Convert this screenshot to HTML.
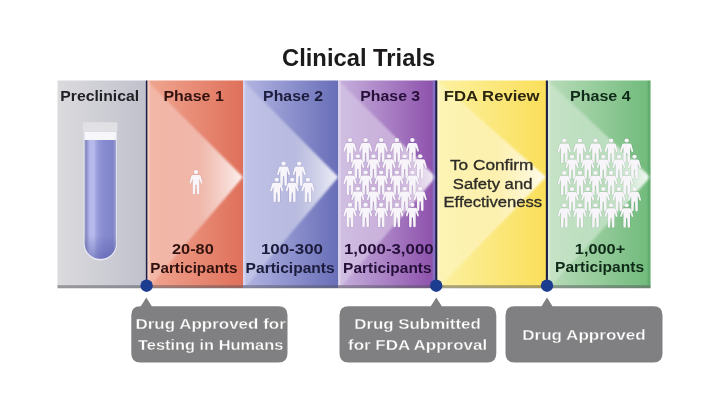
<!DOCTYPE html>
<html lang="en"><head><meta charset="utf-8"><title>Clinical Trials</title>
<style>html,body{margin:0;padding:0;background:#fff;width:720px;height:404px;overflow:hidden}
svg text{font-family:"Liberation Sans","DejaVu Sans",sans-serif}</style>
</head><body>
<svg width="720" height="404" viewBox="0 0 720 404" style="display:block;filter:blur(0.4px)">
<defs>
<linearGradient id="g_pre" x1="0" y1="0" x2="1" y2="0"><stop offset="0" stop-color="#dbdbde"/><stop offset="1" stop-color="#c0c1cc"/></linearGradient>
<linearGradient id="g_p1" x1="0" y1="0" x2="1" y2="0"><stop offset="0" stop-color="#f0a691"/><stop offset="1" stop-color="#df705a"/></linearGradient>
<linearGradient id="g_p2" x1="0" y1="0" x2="1" y2="0"><stop offset="0" stop-color="#b3b5e2"/><stop offset="1" stop-color="#686eb8"/></linearGradient>
<linearGradient id="g_p3" x1="0" y1="0" x2="1" y2="0"><stop offset="0" stop-color="#c6b1dd"/><stop offset="1" stop-color="#8c4fab"/></linearGradient>
<linearGradient id="g_fda" x1="0" y1="0" x2="1" y2="0"><stop offset="0" stop-color="#fcf1a2"/><stop offset="1" stop-color="#fadf5a"/></linearGradient>
<linearGradient id="g_p4" x1="0" y1="0" x2="1" y2="0"><stop offset="0" stop-color="#b9dcb9"/><stop offset="1" stop-color="#70ba7b"/></linearGradient>
<linearGradient id="g_arrowp1" gradientUnits="userSpaceOnUse" x1="147" y1="0" x2="243" y2="0"><stop offset="0" stop-color="#fff" stop-opacity="0.2"/><stop offset="0.55" stop-color="#fff" stop-opacity="0.4"/><stop offset="1" stop-color="#fff" stop-opacity="0.9"/></linearGradient>
<linearGradient id="g_arrowp2" gradientUnits="userSpaceOnUse" x1="243" y1="0" x2="338.3" y2="0"><stop offset="0" stop-color="#fff" stop-opacity="0.2"/><stop offset="0.55" stop-color="#fff" stop-opacity="0.4"/><stop offset="1" stop-color="#fff" stop-opacity="0.9"/></linearGradient>
<linearGradient id="g_arrowp3" gradientUnits="userSpaceOnUse" x1="338.3" y1="0" x2="436" y2="0"><stop offset="0" stop-color="#fff" stop-opacity="0.2"/><stop offset="0.55" stop-color="#fff" stop-opacity="0.4"/><stop offset="1" stop-color="#fff" stop-opacity="0.9"/></linearGradient>
<linearGradient id="g_arrowfda" gradientUnits="userSpaceOnUse" x1="437" y1="0" x2="546" y2="0"><stop offset="0" stop-color="#fff" stop-opacity="0.2"/><stop offset="0.55" stop-color="#fff" stop-opacity="0.4"/><stop offset="1" stop-color="#fff" stop-opacity="0.9"/></linearGradient>
<linearGradient id="g_arrowp4" gradientUnits="userSpaceOnUse" x1="547.5" y1="0" x2="650.5" y2="0"><stop offset="0" stop-color="#fff" stop-opacity="0.2"/><stop offset="0.55" stop-color="#fff" stop-opacity="0.4"/><stop offset="1" stop-color="#fff" stop-opacity="0.9"/></linearGradient>
<filter id="blurA" x="-10%" y="-10%" width="120%" height="120%"><feGaussianBlur stdDeviation="0.9"/></filter>
<linearGradient id="g_arrow" x1="0" y1="0" x2="1" y2="0"><stop offset="0" stop-color="#fff" stop-opacity="0.2"/><stop offset="0.55" stop-color="#fff" stop-opacity="0.4"/><stop offset="1" stop-color="#fff" stop-opacity="0.9"/></linearGradient>
<linearGradient id="g_tube" x1="0" y1="0" x2="1" y2="0"><stop offset="0" stop-color="#9496c4"/><stop offset="0.06" stop-color="#8c8fc6"/><stop offset="0.16" stop-color="#b3b7ea"/><stop offset="0.28" stop-color="#b6baec"/><stop offset="0.42" stop-color="#969ad9"/><stop offset="0.6" stop-color="#878bd0"/><stop offset="0.9" stop-color="#8185c8"/><stop offset="0.97" stop-color="#989bd0"/><stop offset="1" stop-color="#b8bad8"/></linearGradient>
<filter id="blur1" x="-20%" y="-50%" width="140%" height="200%"><feGaussianBlur stdDeviation="0.5"/></filter>
<filter id="blur2" x="-20%" y="-20%" width="140%" height="140%"><feGaussianBlur stdDeviation="1.2"/></filter>
<filter id="soft" x="-5%" y="-5%" width="110%" height="110%"><feGaussianBlur stdDeviation="0.35"/></filter>
<linearGradient id="g_tubev" x1="0" y1="0" x2="0" y2="1"><stop offset="0" stop-color="#4a4fa0" stop-opacity="0"/><stop offset="0.8" stop-color="#4a4fa0" stop-opacity="0"/><stop offset="1" stop-color="#4a4fa0" stop-opacity="0.45"/></linearGradient>
</defs>
<rect width="720" height="404" fill="#ffffff"/>
<rect x="57.5" y="80.5" width="88.5" height="207.7" fill="url(#g_pre)"/>
<rect x="147" y="80.5" width="96" height="207.7" fill="url(#g_p1)"/>
<rect x="243" y="80.5" width="95.30000000000001" height="207.7" fill="url(#g_p2)"/>
<rect x="338.3" y="80.5" width="97.69999999999999" height="207.7" fill="url(#g_p3)"/>
<rect x="437" y="80.5" width="109" height="207.7" fill="url(#g_fda)"/>
<rect x="547.5" y="80.5" width="103.0" height="207.7" fill="url(#g_p4)"/>
<rect x="57.5" y="285.2" width="593" height="3.6" fill="#55555c" fill-opacity="0.5" filter="url(#blur1)"/>
<rect x="50" y="288.4" width="610" height="3" fill="#ffffff"/>
<clipPath id="c_p1"><rect x="147" y="80.5" width="96" height="204.7"/></clipPath>
<g clip-path="url(#c_p1)"><polygon points="141,74.5 147,80.5 243,177 151,285.2 141,291.2" fill="url(#g_arrowp1)" filter="url(#blurA)"/></g>
<clipPath id="c_p2"><rect x="243" y="80.5" width="95.30000000000001" height="204.7"/></clipPath>
<g clip-path="url(#c_p2)"><polygon points="237,74.5 243,80.5 338.3,177 247,285.2 237,291.2" fill="url(#g_arrowp2)" filter="url(#blurA)"/></g>
<clipPath id="c_p3"><rect x="338.3" y="80.5" width="97.69999999999999" height="204.7"/></clipPath>
<g clip-path="url(#c_p3)"><polygon points="332.3,74.5 338.3,80.5 436,177 342.3,285.2 332.3,291.2" fill="url(#g_arrowp3)" filter="url(#blurA)"/></g>
<clipPath id="c_fda"><rect x="437" y="80.5" width="109" height="204.7"/></clipPath>
<g clip-path="url(#c_fda)"><polygon points="431,74.5 437,80.5 546,177 441,285.2 431,291.2" fill="url(#g_arrowfda)" filter="url(#blurA)"/></g>
<clipPath id="c_p4"><rect x="547.5" y="80.5" width="103.0" height="204.7"/></clipPath>
<g clip-path="url(#c_p4)"><polygon points="541.5,74.5 547.5,80.5 650.5,177 551.5,285.2 541.5,291.2" fill="url(#g_arrowp4)" filter="url(#blurA)"/></g>
<rect x="432.6" y="80.5" width="2.8" height="204.7" fill="#7f86d0" fill-opacity="0.55"/>
<rect x="647.6" y="80.5" width="2.9" height="204.7" fill="#3f8f50" fill-opacity="0.3"/>
<rect x="147.4" y="80.5" width="2.4" height="204.7" fill="#ffffff" fill-opacity="0.28"/>
<rect x="243" y="80.5" width="2.4" height="204.7" fill="#ffffff" fill-opacity="0.28"/>
<rect x="338.3" y="80.5" width="2.4" height="204.7" fill="#ffffff" fill-opacity="0.28"/>
<rect x="437.3" y="80.5" width="2.4" height="204.7" fill="#ffffff" fill-opacity="0.28"/>
<rect x="548" y="80.5" width="2.4" height="204.7" fill="#ffffff" fill-opacity="0.28"/>
<rect x="145.85" y="80.5" width="1.5" height="206.7" fill="#1a1f48"/>
<rect x="435.3" y="80.5" width="2" height="206.7" fill="#1a1f48"/>
<rect x="545.85" y="80.5" width="2.1" height="206.7" fill="#1a1f48"/>
<g>
<path d="M83.6 132 L117 132 L117 243.8 A16.7 16.7 0 0 1 83.6 243.8 Z" fill="#e6e7f3" filter="url(#soft)"/>
<path d="M84.6 140 L116.2 140 L116.2 243 A15.8 15.8 0 0 1 84.6 243 Z" fill="url(#g_tube)"/>
<path d="M84.6 140 L116.2 140 L116.2 243 A15.8 15.8 0 0 1 84.6 243 Z" fill="url(#g_tubev)"/>
<rect x="82.7" y="122.2" width="34.7" height="9.6" rx="1.5" fill="#e1e1e5" filter="url(#soft)"/>
<rect x="85" y="132" width="30.6" height="8" fill="#f7f7fa" filter="url(#soft)"/>
</g>
<g filter="url(#soft)">
<g transform="translate(196.00,170.00) scale(1.100,1.000)" fill="#f7f5f9" stroke="#8a4a3a" stroke-opacity="0.2" stroke-width="0.8" paint-order="stroke"><circle cx="0" cy="2.1" r="2.05"/><path d="M-2.6 5 Q-3.8 5 -4.3 6.2 L-5.9 12.6 Q-6.1 13.5 -5.4 13.7 Q-4.7 13.9 -4.4 13 L-3 8.8 L-3 23.5 Q-3 24.5 -1.9 24.5 Q-0.8 24.5 -0.8 23.5 L-0.5 14.8 L0.5 14.8 L0.8 23.5 Q0.8 24.5 1.9 24.5 Q3 24.5 3 23.5 L3 8.8 L4.4 13 Q4.7 13.9 5.4 13.7 Q6.1 13.5 5.9 12.6 L4.3 6.2 Q3.8 5 2.6 5 Z"/></g>
<g transform="translate(283.60,161.50) scale(1.100,1.000)" fill="#f7f5f9" stroke="#3a3f80" stroke-opacity="0.2" stroke-width="0.8" paint-order="stroke"><circle cx="0" cy="2.1" r="2.05"/><path d="M-2.6 5 Q-3.8 5 -4.3 6.2 L-5.9 12.6 Q-6.1 13.5 -5.4 13.7 Q-4.7 13.9 -4.4 13 L-3 8.8 L-3 23.5 Q-3 24.5 -1.9 24.5 Q-0.8 24.5 -0.8 23.5 L-0.5 14.8 L0.5 14.8 L0.8 23.5 Q0.8 24.5 1.9 24.5 Q3 24.5 3 23.5 L3 8.8 L4.4 13 Q4.7 13.9 5.4 13.7 Q6.1 13.5 5.9 12.6 L4.3 6.2 Q3.8 5 2.6 5 Z"/></g>
<g transform="translate(299.20,161.50) scale(1.100,1.000)" fill="#f7f5f9" stroke="#3a3f80" stroke-opacity="0.2" stroke-width="0.8" paint-order="stroke"><circle cx="0" cy="2.1" r="2.05"/><path d="M-2.6 5 Q-3.8 5 -4.3 6.2 L-5.9 12.6 Q-6.1 13.5 -5.4 13.7 Q-4.7 13.9 -4.4 13 L-3 8.8 L-3 23.5 Q-3 24.5 -1.9 24.5 Q-0.8 24.5 -0.8 23.5 L-0.5 14.8 L0.5 14.8 L0.8 23.5 Q0.8 24.5 1.9 24.5 Q3 24.5 3 23.5 L3 8.8 L4.4 13 Q4.7 13.9 5.4 13.7 Q6.1 13.5 5.9 12.6 L4.3 6.2 Q3.8 5 2.6 5 Z"/></g>
<g transform="translate(276.70,177.70) scale(1.100,1.000)" fill="#f7f5f9" stroke="#3a3f80" stroke-opacity="0.2" stroke-width="0.8" paint-order="stroke"><circle cx="0" cy="2.1" r="2.05"/><path d="M-2.6 5 Q-3.8 5 -4.3 6.2 L-5.9 12.6 Q-6.1 13.5 -5.4 13.7 Q-4.7 13.9 -4.4 13 L-3 8.8 L-3 23.5 Q-3 24.5 -1.9 24.5 Q-0.8 24.5 -0.8 23.5 L-0.5 14.8 L0.5 14.8 L0.8 23.5 Q0.8 24.5 1.9 24.5 Q3 24.5 3 23.5 L3 8.8 L4.4 13 Q4.7 13.9 5.4 13.7 Q6.1 13.5 5.9 12.6 L4.3 6.2 Q3.8 5 2.6 5 Z"/></g>
<g transform="translate(292.30,177.70) scale(1.100,1.000)" fill="#f7f5f9" stroke="#3a3f80" stroke-opacity="0.2" stroke-width="0.8" paint-order="stroke"><circle cx="0" cy="2.1" r="2.05"/><path d="M-2.6 5 Q-3.8 5 -4.3 6.2 L-5.9 12.6 Q-6.1 13.5 -5.4 13.7 Q-4.7 13.9 -4.4 13 L-3 8.8 L-3 23.5 Q-3 24.5 -1.9 24.5 Q-0.8 24.5 -0.8 23.5 L-0.5 14.8 L0.5 14.8 L0.8 23.5 Q0.8 24.5 1.9 24.5 Q3 24.5 3 23.5 L3 8.8 L4.4 13 Q4.7 13.9 5.4 13.7 Q6.1 13.5 5.9 12.6 L4.3 6.2 Q3.8 5 2.6 5 Z"/></g>
<g transform="translate(307.90,177.70) scale(1.100,1.000)" fill="#f7f5f9" stroke="#3a3f80" stroke-opacity="0.2" stroke-width="0.8" paint-order="stroke"><circle cx="0" cy="2.1" r="2.05"/><path d="M-2.6 5 Q-3.8 5 -4.3 6.2 L-5.9 12.6 Q-6.1 13.5 -5.4 13.7 Q-4.7 13.9 -4.4 13 L-3 8.8 L-3 23.5 Q-3 24.5 -1.9 24.5 Q-0.8 24.5 -0.8 23.5 L-0.5 14.8 L0.5 14.8 L0.8 23.5 Q0.8 24.5 1.9 24.5 Q3 24.5 3 23.5 L3 8.8 L4.4 13 Q4.7 13.9 5.4 13.7 Q6.1 13.5 5.9 12.6 L4.3 6.2 Q3.8 5 2.6 5 Z"/></g>
<g transform="translate(350.00,138.00) scale(1.100,1.000)" fill="#f7f5f9" stroke="#4a2a66" stroke-opacity="0.2" stroke-width="0.8" paint-order="stroke"><circle cx="0" cy="2.1" r="2.05"/><path d="M-2.6 5 Q-3.8 5 -4.3 6.2 L-5.9 12.6 Q-6.1 13.5 -5.4 13.7 Q-4.7 13.9 -4.4 13 L-3 8.8 L-3 23.5 Q-3 24.5 -1.9 24.5 Q-0.8 24.5 -0.8 23.5 L-0.5 14.8 L0.5 14.8 L0.8 23.5 Q0.8 24.5 1.9 24.5 Q3 24.5 3 23.5 L3 8.8 L4.4 13 Q4.7 13.9 5.4 13.7 Q6.1 13.5 5.9 12.6 L4.3 6.2 Q3.8 5 2.6 5 Z"/></g>
<g transform="translate(365.60,138.00) scale(1.100,1.000)" fill="#f7f5f9" stroke="#4a2a66" stroke-opacity="0.2" stroke-width="0.8" paint-order="stroke"><circle cx="0" cy="2.1" r="2.05"/><path d="M-2.6 5 Q-3.8 5 -4.3 6.2 L-5.9 12.6 Q-6.1 13.5 -5.4 13.7 Q-4.7 13.9 -4.4 13 L-3 8.8 L-3 23.5 Q-3 24.5 -1.9 24.5 Q-0.8 24.5 -0.8 23.5 L-0.5 14.8 L0.5 14.8 L0.8 23.5 Q0.8 24.5 1.9 24.5 Q3 24.5 3 23.5 L3 8.8 L4.4 13 Q4.7 13.9 5.4 13.7 Q6.1 13.5 5.9 12.6 L4.3 6.2 Q3.8 5 2.6 5 Z"/></g>
<g transform="translate(381.20,138.00) scale(1.100,1.000)" fill="#f7f5f9" stroke="#4a2a66" stroke-opacity="0.2" stroke-width="0.8" paint-order="stroke"><circle cx="0" cy="2.1" r="2.05"/><path d="M-2.6 5 Q-3.8 5 -4.3 6.2 L-5.9 12.6 Q-6.1 13.5 -5.4 13.7 Q-4.7 13.9 -4.4 13 L-3 8.8 L-3 23.5 Q-3 24.5 -1.9 24.5 Q-0.8 24.5 -0.8 23.5 L-0.5 14.8 L0.5 14.8 L0.8 23.5 Q0.8 24.5 1.9 24.5 Q3 24.5 3 23.5 L3 8.8 L4.4 13 Q4.7 13.9 5.4 13.7 Q6.1 13.5 5.9 12.6 L4.3 6.2 Q3.8 5 2.6 5 Z"/></g>
<g transform="translate(396.80,138.00) scale(1.100,1.000)" fill="#f7f5f9" stroke="#4a2a66" stroke-opacity="0.2" stroke-width="0.8" paint-order="stroke"><circle cx="0" cy="2.1" r="2.05"/><path d="M-2.6 5 Q-3.8 5 -4.3 6.2 L-5.9 12.6 Q-6.1 13.5 -5.4 13.7 Q-4.7 13.9 -4.4 13 L-3 8.8 L-3 23.5 Q-3 24.5 -1.9 24.5 Q-0.8 24.5 -0.8 23.5 L-0.5 14.8 L0.5 14.8 L0.8 23.5 Q0.8 24.5 1.9 24.5 Q3 24.5 3 23.5 L3 8.8 L4.4 13 Q4.7 13.9 5.4 13.7 Q6.1 13.5 5.9 12.6 L4.3 6.2 Q3.8 5 2.6 5 Z"/></g>
<g transform="translate(412.40,138.00) scale(1.100,1.000)" fill="#f7f5f9" stroke="#4a2a66" stroke-opacity="0.2" stroke-width="0.8" paint-order="stroke"><circle cx="0" cy="2.1" r="2.05"/><path d="M-2.6 5 Q-3.8 5 -4.3 6.2 L-5.9 12.6 Q-6.1 13.5 -5.4 13.7 Q-4.7 13.9 -4.4 13 L-3 8.8 L-3 23.5 Q-3 24.5 -1.9 24.5 Q-0.8 24.5 -0.8 23.5 L-0.5 14.8 L0.5 14.8 L0.8 23.5 Q0.8 24.5 1.9 24.5 Q3 24.5 3 23.5 L3 8.8 L4.4 13 Q4.7 13.9 5.4 13.7 Q6.1 13.5 5.9 12.6 L4.3 6.2 Q3.8 5 2.6 5 Z"/></g>
<g transform="translate(357.80,154.20) scale(1.100,1.000)" fill="#f7f5f9" stroke="#4a2a66" stroke-opacity="0.2" stroke-width="0.8" paint-order="stroke"><circle cx="0" cy="2.1" r="2.05"/><path d="M-2.6 5 Q-3.8 5 -4.3 6.2 L-5.9 12.6 Q-6.1 13.5 -5.4 13.7 Q-4.7 13.9 -4.4 13 L-3 8.8 L-3 23.5 Q-3 24.5 -1.9 24.5 Q-0.8 24.5 -0.8 23.5 L-0.5 14.8 L0.5 14.8 L0.8 23.5 Q0.8 24.5 1.9 24.5 Q3 24.5 3 23.5 L3 8.8 L4.4 13 Q4.7 13.9 5.4 13.7 Q6.1 13.5 5.9 12.6 L4.3 6.2 Q3.8 5 2.6 5 Z"/></g>
<g transform="translate(373.40,154.20) scale(1.100,1.000)" fill="#f7f5f9" stroke="#4a2a66" stroke-opacity="0.2" stroke-width="0.8" paint-order="stroke"><circle cx="0" cy="2.1" r="2.05"/><path d="M-2.6 5 Q-3.8 5 -4.3 6.2 L-5.9 12.6 Q-6.1 13.5 -5.4 13.7 Q-4.7 13.9 -4.4 13 L-3 8.8 L-3 23.5 Q-3 24.5 -1.9 24.5 Q-0.8 24.5 -0.8 23.5 L-0.5 14.8 L0.5 14.8 L0.8 23.5 Q0.8 24.5 1.9 24.5 Q3 24.5 3 23.5 L3 8.8 L4.4 13 Q4.7 13.9 5.4 13.7 Q6.1 13.5 5.9 12.6 L4.3 6.2 Q3.8 5 2.6 5 Z"/></g>
<g transform="translate(389.00,154.20) scale(1.100,1.000)" fill="#f7f5f9" stroke="#4a2a66" stroke-opacity="0.2" stroke-width="0.8" paint-order="stroke"><circle cx="0" cy="2.1" r="2.05"/><path d="M-2.6 5 Q-3.8 5 -4.3 6.2 L-5.9 12.6 Q-6.1 13.5 -5.4 13.7 Q-4.7 13.9 -4.4 13 L-3 8.8 L-3 23.5 Q-3 24.5 -1.9 24.5 Q-0.8 24.5 -0.8 23.5 L-0.5 14.8 L0.5 14.8 L0.8 23.5 Q0.8 24.5 1.9 24.5 Q3 24.5 3 23.5 L3 8.8 L4.4 13 Q4.7 13.9 5.4 13.7 Q6.1 13.5 5.9 12.6 L4.3 6.2 Q3.8 5 2.6 5 Z"/></g>
<g transform="translate(404.60,154.20) scale(1.100,1.000)" fill="#f7f5f9" stroke="#4a2a66" stroke-opacity="0.2" stroke-width="0.8" paint-order="stroke"><circle cx="0" cy="2.1" r="2.05"/><path d="M-2.6 5 Q-3.8 5 -4.3 6.2 L-5.9 12.6 Q-6.1 13.5 -5.4 13.7 Q-4.7 13.9 -4.4 13 L-3 8.8 L-3 23.5 Q-3 24.5 -1.9 24.5 Q-0.8 24.5 -0.8 23.5 L-0.5 14.8 L0.5 14.8 L0.8 23.5 Q0.8 24.5 1.9 24.5 Q3 24.5 3 23.5 L3 8.8 L4.4 13 Q4.7 13.9 5.4 13.7 Q6.1 13.5 5.9 12.6 L4.3 6.2 Q3.8 5 2.6 5 Z"/></g>
<g transform="translate(420.20,154.20) scale(1.100,1.000)" fill="#f7f5f9" stroke="#4a2a66" stroke-opacity="0.2" stroke-width="0.8" paint-order="stroke"><circle cx="0" cy="2.1" r="2.05"/><path d="M-2.6 5 Q-3.8 5 -4.3 6.2 L-5.9 12.6 Q-6.1 13.5 -5.4 13.7 Q-4.7 13.9 -4.4 13 L-3 8.8 L-3 23.5 Q-3 24.5 -1.9 24.5 Q-0.8 24.5 -0.8 23.5 L-0.5 14.8 L0.5 14.8 L0.8 23.5 Q0.8 24.5 1.9 24.5 Q3 24.5 3 23.5 L3 8.8 L4.4 13 Q4.7 13.9 5.4 13.7 Q6.1 13.5 5.9 12.6 L4.3 6.2 Q3.8 5 2.6 5 Z"/></g>
<g transform="translate(350.00,170.40) scale(1.100,1.000)" fill="#f7f5f9" stroke="#4a2a66" stroke-opacity="0.2" stroke-width="0.8" paint-order="stroke"><circle cx="0" cy="2.1" r="2.05"/><path d="M-2.6 5 Q-3.8 5 -4.3 6.2 L-5.9 12.6 Q-6.1 13.5 -5.4 13.7 Q-4.7 13.9 -4.4 13 L-3 8.8 L-3 23.5 Q-3 24.5 -1.9 24.5 Q-0.8 24.5 -0.8 23.5 L-0.5 14.8 L0.5 14.8 L0.8 23.5 Q0.8 24.5 1.9 24.5 Q3 24.5 3 23.5 L3 8.8 L4.4 13 Q4.7 13.9 5.4 13.7 Q6.1 13.5 5.9 12.6 L4.3 6.2 Q3.8 5 2.6 5 Z"/></g>
<g transform="translate(365.60,170.40) scale(1.100,1.000)" fill="#f7f5f9" stroke="#4a2a66" stroke-opacity="0.2" stroke-width="0.8" paint-order="stroke"><circle cx="0" cy="2.1" r="2.05"/><path d="M-2.6 5 Q-3.8 5 -4.3 6.2 L-5.9 12.6 Q-6.1 13.5 -5.4 13.7 Q-4.7 13.9 -4.4 13 L-3 8.8 L-3 23.5 Q-3 24.5 -1.9 24.5 Q-0.8 24.5 -0.8 23.5 L-0.5 14.8 L0.5 14.8 L0.8 23.5 Q0.8 24.5 1.9 24.5 Q3 24.5 3 23.5 L3 8.8 L4.4 13 Q4.7 13.9 5.4 13.7 Q6.1 13.5 5.9 12.6 L4.3 6.2 Q3.8 5 2.6 5 Z"/></g>
<g transform="translate(381.20,170.40) scale(1.100,1.000)" fill="#f7f5f9" stroke="#4a2a66" stroke-opacity="0.2" stroke-width="0.8" paint-order="stroke"><circle cx="0" cy="2.1" r="2.05"/><path d="M-2.6 5 Q-3.8 5 -4.3 6.2 L-5.9 12.6 Q-6.1 13.5 -5.4 13.7 Q-4.7 13.9 -4.4 13 L-3 8.8 L-3 23.5 Q-3 24.5 -1.9 24.5 Q-0.8 24.5 -0.8 23.5 L-0.5 14.8 L0.5 14.8 L0.8 23.5 Q0.8 24.5 1.9 24.5 Q3 24.5 3 23.5 L3 8.8 L4.4 13 Q4.7 13.9 5.4 13.7 Q6.1 13.5 5.9 12.6 L4.3 6.2 Q3.8 5 2.6 5 Z"/></g>
<g transform="translate(396.80,170.40) scale(1.100,1.000)" fill="#f7f5f9" stroke="#4a2a66" stroke-opacity="0.2" stroke-width="0.8" paint-order="stroke"><circle cx="0" cy="2.1" r="2.05"/><path d="M-2.6 5 Q-3.8 5 -4.3 6.2 L-5.9 12.6 Q-6.1 13.5 -5.4 13.7 Q-4.7 13.9 -4.4 13 L-3 8.8 L-3 23.5 Q-3 24.5 -1.9 24.5 Q-0.8 24.5 -0.8 23.5 L-0.5 14.8 L0.5 14.8 L0.8 23.5 Q0.8 24.5 1.9 24.5 Q3 24.5 3 23.5 L3 8.8 L4.4 13 Q4.7 13.9 5.4 13.7 Q6.1 13.5 5.9 12.6 L4.3 6.2 Q3.8 5 2.6 5 Z"/></g>
<g transform="translate(412.40,170.40) scale(1.100,1.000)" fill="#f7f5f9" stroke="#4a2a66" stroke-opacity="0.2" stroke-width="0.8" paint-order="stroke"><circle cx="0" cy="2.1" r="2.05"/><path d="M-2.6 5 Q-3.8 5 -4.3 6.2 L-5.9 12.6 Q-6.1 13.5 -5.4 13.7 Q-4.7 13.9 -4.4 13 L-3 8.8 L-3 23.5 Q-3 24.5 -1.9 24.5 Q-0.8 24.5 -0.8 23.5 L-0.5 14.8 L0.5 14.8 L0.8 23.5 Q0.8 24.5 1.9 24.5 Q3 24.5 3 23.5 L3 8.8 L4.4 13 Q4.7 13.9 5.4 13.7 Q6.1 13.5 5.9 12.6 L4.3 6.2 Q3.8 5 2.6 5 Z"/></g>
<g transform="translate(357.80,186.60) scale(1.100,1.000)" fill="#f7f5f9" stroke="#4a2a66" stroke-opacity="0.2" stroke-width="0.8" paint-order="stroke"><circle cx="0" cy="2.1" r="2.05"/><path d="M-2.6 5 Q-3.8 5 -4.3 6.2 L-5.9 12.6 Q-6.1 13.5 -5.4 13.7 Q-4.7 13.9 -4.4 13 L-3 8.8 L-3 23.5 Q-3 24.5 -1.9 24.5 Q-0.8 24.5 -0.8 23.5 L-0.5 14.8 L0.5 14.8 L0.8 23.5 Q0.8 24.5 1.9 24.5 Q3 24.5 3 23.5 L3 8.8 L4.4 13 Q4.7 13.9 5.4 13.7 Q6.1 13.5 5.9 12.6 L4.3 6.2 Q3.8 5 2.6 5 Z"/></g>
<g transform="translate(373.40,186.60) scale(1.100,1.000)" fill="#f7f5f9" stroke="#4a2a66" stroke-opacity="0.2" stroke-width="0.8" paint-order="stroke"><circle cx="0" cy="2.1" r="2.05"/><path d="M-2.6 5 Q-3.8 5 -4.3 6.2 L-5.9 12.6 Q-6.1 13.5 -5.4 13.7 Q-4.7 13.9 -4.4 13 L-3 8.8 L-3 23.5 Q-3 24.5 -1.9 24.5 Q-0.8 24.5 -0.8 23.5 L-0.5 14.8 L0.5 14.8 L0.8 23.5 Q0.8 24.5 1.9 24.5 Q3 24.5 3 23.5 L3 8.8 L4.4 13 Q4.7 13.9 5.4 13.7 Q6.1 13.5 5.9 12.6 L4.3 6.2 Q3.8 5 2.6 5 Z"/></g>
<g transform="translate(389.00,186.60) scale(1.100,1.000)" fill="#f7f5f9" stroke="#4a2a66" stroke-opacity="0.2" stroke-width="0.8" paint-order="stroke"><circle cx="0" cy="2.1" r="2.05"/><path d="M-2.6 5 Q-3.8 5 -4.3 6.2 L-5.9 12.6 Q-6.1 13.5 -5.4 13.7 Q-4.7 13.9 -4.4 13 L-3 8.8 L-3 23.5 Q-3 24.5 -1.9 24.5 Q-0.8 24.5 -0.8 23.5 L-0.5 14.8 L0.5 14.8 L0.8 23.5 Q0.8 24.5 1.9 24.5 Q3 24.5 3 23.5 L3 8.8 L4.4 13 Q4.7 13.9 5.4 13.7 Q6.1 13.5 5.9 12.6 L4.3 6.2 Q3.8 5 2.6 5 Z"/></g>
<g transform="translate(404.60,186.60) scale(1.100,1.000)" fill="#f7f5f9" stroke="#4a2a66" stroke-opacity="0.2" stroke-width="0.8" paint-order="stroke"><circle cx="0" cy="2.1" r="2.05"/><path d="M-2.6 5 Q-3.8 5 -4.3 6.2 L-5.9 12.6 Q-6.1 13.5 -5.4 13.7 Q-4.7 13.9 -4.4 13 L-3 8.8 L-3 23.5 Q-3 24.5 -1.9 24.5 Q-0.8 24.5 -0.8 23.5 L-0.5 14.8 L0.5 14.8 L0.8 23.5 Q0.8 24.5 1.9 24.5 Q3 24.5 3 23.5 L3 8.8 L4.4 13 Q4.7 13.9 5.4 13.7 Q6.1 13.5 5.9 12.6 L4.3 6.2 Q3.8 5 2.6 5 Z"/></g>
<g transform="translate(420.20,186.60) scale(1.100,1.000)" fill="#f7f5f9" stroke="#4a2a66" stroke-opacity="0.2" stroke-width="0.8" paint-order="stroke"><circle cx="0" cy="2.1" r="2.05"/><path d="M-2.6 5 Q-3.8 5 -4.3 6.2 L-5.9 12.6 Q-6.1 13.5 -5.4 13.7 Q-4.7 13.9 -4.4 13 L-3 8.8 L-3 23.5 Q-3 24.5 -1.9 24.5 Q-0.8 24.5 -0.8 23.5 L-0.5 14.8 L0.5 14.8 L0.8 23.5 Q0.8 24.5 1.9 24.5 Q3 24.5 3 23.5 L3 8.8 L4.4 13 Q4.7 13.9 5.4 13.7 Q6.1 13.5 5.9 12.6 L4.3 6.2 Q3.8 5 2.6 5 Z"/></g>
<g transform="translate(350.00,202.80) scale(1.100,1.000)" fill="#f7f5f9" stroke="#4a2a66" stroke-opacity="0.2" stroke-width="0.8" paint-order="stroke"><circle cx="0" cy="2.1" r="2.05"/><path d="M-2.6 5 Q-3.8 5 -4.3 6.2 L-5.9 12.6 Q-6.1 13.5 -5.4 13.7 Q-4.7 13.9 -4.4 13 L-3 8.8 L-3 23.5 Q-3 24.5 -1.9 24.5 Q-0.8 24.5 -0.8 23.5 L-0.5 14.8 L0.5 14.8 L0.8 23.5 Q0.8 24.5 1.9 24.5 Q3 24.5 3 23.5 L3 8.8 L4.4 13 Q4.7 13.9 5.4 13.7 Q6.1 13.5 5.9 12.6 L4.3 6.2 Q3.8 5 2.6 5 Z"/></g>
<g transform="translate(365.60,202.80) scale(1.100,1.000)" fill="#f7f5f9" stroke="#4a2a66" stroke-opacity="0.2" stroke-width="0.8" paint-order="stroke"><circle cx="0" cy="2.1" r="2.05"/><path d="M-2.6 5 Q-3.8 5 -4.3 6.2 L-5.9 12.6 Q-6.1 13.5 -5.4 13.7 Q-4.7 13.9 -4.4 13 L-3 8.8 L-3 23.5 Q-3 24.5 -1.9 24.5 Q-0.8 24.5 -0.8 23.5 L-0.5 14.8 L0.5 14.8 L0.8 23.5 Q0.8 24.5 1.9 24.5 Q3 24.5 3 23.5 L3 8.8 L4.4 13 Q4.7 13.9 5.4 13.7 Q6.1 13.5 5.9 12.6 L4.3 6.2 Q3.8 5 2.6 5 Z"/></g>
<g transform="translate(381.20,202.80) scale(1.100,1.000)" fill="#f7f5f9" stroke="#4a2a66" stroke-opacity="0.2" stroke-width="0.8" paint-order="stroke"><circle cx="0" cy="2.1" r="2.05"/><path d="M-2.6 5 Q-3.8 5 -4.3 6.2 L-5.9 12.6 Q-6.1 13.5 -5.4 13.7 Q-4.7 13.9 -4.4 13 L-3 8.8 L-3 23.5 Q-3 24.5 -1.9 24.5 Q-0.8 24.5 -0.8 23.5 L-0.5 14.8 L0.5 14.8 L0.8 23.5 Q0.8 24.5 1.9 24.5 Q3 24.5 3 23.5 L3 8.8 L4.4 13 Q4.7 13.9 5.4 13.7 Q6.1 13.5 5.9 12.6 L4.3 6.2 Q3.8 5 2.6 5 Z"/></g>
<g transform="translate(396.80,202.80) scale(1.100,1.000)" fill="#f7f5f9" stroke="#4a2a66" stroke-opacity="0.2" stroke-width="0.8" paint-order="stroke"><circle cx="0" cy="2.1" r="2.05"/><path d="M-2.6 5 Q-3.8 5 -4.3 6.2 L-5.9 12.6 Q-6.1 13.5 -5.4 13.7 Q-4.7 13.9 -4.4 13 L-3 8.8 L-3 23.5 Q-3 24.5 -1.9 24.5 Q-0.8 24.5 -0.8 23.5 L-0.5 14.8 L0.5 14.8 L0.8 23.5 Q0.8 24.5 1.9 24.5 Q3 24.5 3 23.5 L3 8.8 L4.4 13 Q4.7 13.9 5.4 13.7 Q6.1 13.5 5.9 12.6 L4.3 6.2 Q3.8 5 2.6 5 Z"/></g>
<g transform="translate(412.40,202.80) scale(1.100,1.000)" fill="#f7f5f9" stroke="#4a2a66" stroke-opacity="0.2" stroke-width="0.8" paint-order="stroke"><circle cx="0" cy="2.1" r="2.05"/><path d="M-2.6 5 Q-3.8 5 -4.3 6.2 L-5.9 12.6 Q-6.1 13.5 -5.4 13.7 Q-4.7 13.9 -4.4 13 L-3 8.8 L-3 23.5 Q-3 24.5 -1.9 24.5 Q-0.8 24.5 -0.8 23.5 L-0.5 14.8 L0.5 14.8 L0.8 23.5 Q0.8 24.5 1.9 24.5 Q3 24.5 3 23.5 L3 8.8 L4.4 13 Q4.7 13.9 5.4 13.7 Q6.1 13.5 5.9 12.6 L4.3 6.2 Q3.8 5 2.6 5 Z"/></g>
<g transform="translate(564.30,138.40) scale(1.100,1.000)" fill="#f7f5f9" stroke="#2f5a38" stroke-opacity="0.2" stroke-width="0.8" paint-order="stroke"><circle cx="0" cy="2.1" r="2.05"/><path d="M-2.6 5 Q-3.8 5 -4.3 6.2 L-5.9 12.6 Q-6.1 13.5 -5.4 13.7 Q-4.7 13.9 -4.4 13 L-3 8.8 L-3 23.5 Q-3 24.5 -1.9 24.5 Q-0.8 24.5 -0.8 23.5 L-0.5 14.8 L0.5 14.8 L0.8 23.5 Q0.8 24.5 1.9 24.5 Q3 24.5 3 23.5 L3 8.8 L4.4 13 Q4.7 13.9 5.4 13.7 Q6.1 13.5 5.9 12.6 L4.3 6.2 Q3.8 5 2.6 5 Z"/></g>
<g transform="translate(579.90,138.40) scale(1.100,1.000)" fill="#f7f5f9" stroke="#2f5a38" stroke-opacity="0.2" stroke-width="0.8" paint-order="stroke"><circle cx="0" cy="2.1" r="2.05"/><path d="M-2.6 5 Q-3.8 5 -4.3 6.2 L-5.9 12.6 Q-6.1 13.5 -5.4 13.7 Q-4.7 13.9 -4.4 13 L-3 8.8 L-3 23.5 Q-3 24.5 -1.9 24.5 Q-0.8 24.5 -0.8 23.5 L-0.5 14.8 L0.5 14.8 L0.8 23.5 Q0.8 24.5 1.9 24.5 Q3 24.5 3 23.5 L3 8.8 L4.4 13 Q4.7 13.9 5.4 13.7 Q6.1 13.5 5.9 12.6 L4.3 6.2 Q3.8 5 2.6 5 Z"/></g>
<g transform="translate(595.50,138.40) scale(1.100,1.000)" fill="#f7f5f9" stroke="#2f5a38" stroke-opacity="0.2" stroke-width="0.8" paint-order="stroke"><circle cx="0" cy="2.1" r="2.05"/><path d="M-2.6 5 Q-3.8 5 -4.3 6.2 L-5.9 12.6 Q-6.1 13.5 -5.4 13.7 Q-4.7 13.9 -4.4 13 L-3 8.8 L-3 23.5 Q-3 24.5 -1.9 24.5 Q-0.8 24.5 -0.8 23.5 L-0.5 14.8 L0.5 14.8 L0.8 23.5 Q0.8 24.5 1.9 24.5 Q3 24.5 3 23.5 L3 8.8 L4.4 13 Q4.7 13.9 5.4 13.7 Q6.1 13.5 5.9 12.6 L4.3 6.2 Q3.8 5 2.6 5 Z"/></g>
<g transform="translate(611.10,138.40) scale(1.100,1.000)" fill="#f7f5f9" stroke="#2f5a38" stroke-opacity="0.2" stroke-width="0.8" paint-order="stroke"><circle cx="0" cy="2.1" r="2.05"/><path d="M-2.6 5 Q-3.8 5 -4.3 6.2 L-5.9 12.6 Q-6.1 13.5 -5.4 13.7 Q-4.7 13.9 -4.4 13 L-3 8.8 L-3 23.5 Q-3 24.5 -1.9 24.5 Q-0.8 24.5 -0.8 23.5 L-0.5 14.8 L0.5 14.8 L0.8 23.5 Q0.8 24.5 1.9 24.5 Q3 24.5 3 23.5 L3 8.8 L4.4 13 Q4.7 13.9 5.4 13.7 Q6.1 13.5 5.9 12.6 L4.3 6.2 Q3.8 5 2.6 5 Z"/></g>
<g transform="translate(626.70,138.40) scale(1.100,1.000)" fill="#f7f5f9" stroke="#2f5a38" stroke-opacity="0.2" stroke-width="0.8" paint-order="stroke"><circle cx="0" cy="2.1" r="2.05"/><path d="M-2.6 5 Q-3.8 5 -4.3 6.2 L-5.9 12.6 Q-6.1 13.5 -5.4 13.7 Q-4.7 13.9 -4.4 13 L-3 8.8 L-3 23.5 Q-3 24.5 -1.9 24.5 Q-0.8 24.5 -0.8 23.5 L-0.5 14.8 L0.5 14.8 L0.8 23.5 Q0.8 24.5 1.9 24.5 Q3 24.5 3 23.5 L3 8.8 L4.4 13 Q4.7 13.9 5.4 13.7 Q6.1 13.5 5.9 12.6 L4.3 6.2 Q3.8 5 2.6 5 Z"/></g>
<g transform="translate(572.10,154.60) scale(1.100,1.000)" fill="#f7f5f9" stroke="#2f5a38" stroke-opacity="0.2" stroke-width="0.8" paint-order="stroke"><circle cx="0" cy="2.1" r="2.05"/><path d="M-2.6 5 Q-3.8 5 -4.3 6.2 L-5.9 12.6 Q-6.1 13.5 -5.4 13.7 Q-4.7 13.9 -4.4 13 L-3 8.8 L-3 23.5 Q-3 24.5 -1.9 24.5 Q-0.8 24.5 -0.8 23.5 L-0.5 14.8 L0.5 14.8 L0.8 23.5 Q0.8 24.5 1.9 24.5 Q3 24.5 3 23.5 L3 8.8 L4.4 13 Q4.7 13.9 5.4 13.7 Q6.1 13.5 5.9 12.6 L4.3 6.2 Q3.8 5 2.6 5 Z"/></g>
<g transform="translate(587.70,154.60) scale(1.100,1.000)" fill="#f7f5f9" stroke="#2f5a38" stroke-opacity="0.2" stroke-width="0.8" paint-order="stroke"><circle cx="0" cy="2.1" r="2.05"/><path d="M-2.6 5 Q-3.8 5 -4.3 6.2 L-5.9 12.6 Q-6.1 13.5 -5.4 13.7 Q-4.7 13.9 -4.4 13 L-3 8.8 L-3 23.5 Q-3 24.5 -1.9 24.5 Q-0.8 24.5 -0.8 23.5 L-0.5 14.8 L0.5 14.8 L0.8 23.5 Q0.8 24.5 1.9 24.5 Q3 24.5 3 23.5 L3 8.8 L4.4 13 Q4.7 13.9 5.4 13.7 Q6.1 13.5 5.9 12.6 L4.3 6.2 Q3.8 5 2.6 5 Z"/></g>
<g transform="translate(603.30,154.60) scale(1.100,1.000)" fill="#f7f5f9" stroke="#2f5a38" stroke-opacity="0.2" stroke-width="0.8" paint-order="stroke"><circle cx="0" cy="2.1" r="2.05"/><path d="M-2.6 5 Q-3.8 5 -4.3 6.2 L-5.9 12.6 Q-6.1 13.5 -5.4 13.7 Q-4.7 13.9 -4.4 13 L-3 8.8 L-3 23.5 Q-3 24.5 -1.9 24.5 Q-0.8 24.5 -0.8 23.5 L-0.5 14.8 L0.5 14.8 L0.8 23.5 Q0.8 24.5 1.9 24.5 Q3 24.5 3 23.5 L3 8.8 L4.4 13 Q4.7 13.9 5.4 13.7 Q6.1 13.5 5.9 12.6 L4.3 6.2 Q3.8 5 2.6 5 Z"/></g>
<g transform="translate(618.90,154.60) scale(1.100,1.000)" fill="#f7f5f9" stroke="#2f5a38" stroke-opacity="0.2" stroke-width="0.8" paint-order="stroke"><circle cx="0" cy="2.1" r="2.05"/><path d="M-2.6 5 Q-3.8 5 -4.3 6.2 L-5.9 12.6 Q-6.1 13.5 -5.4 13.7 Q-4.7 13.9 -4.4 13 L-3 8.8 L-3 23.5 Q-3 24.5 -1.9 24.5 Q-0.8 24.5 -0.8 23.5 L-0.5 14.8 L0.5 14.8 L0.8 23.5 Q0.8 24.5 1.9 24.5 Q3 24.5 3 23.5 L3 8.8 L4.4 13 Q4.7 13.9 5.4 13.7 Q6.1 13.5 5.9 12.6 L4.3 6.2 Q3.8 5 2.6 5 Z"/></g>
<g transform="translate(634.50,154.60) scale(1.100,1.000)" fill="#f7f5f9" stroke="#2f5a38" stroke-opacity="0.2" stroke-width="0.8" paint-order="stroke"><circle cx="0" cy="2.1" r="2.05"/><path d="M-2.6 5 Q-3.8 5 -4.3 6.2 L-5.9 12.6 Q-6.1 13.5 -5.4 13.7 Q-4.7 13.9 -4.4 13 L-3 8.8 L-3 23.5 Q-3 24.5 -1.9 24.5 Q-0.8 24.5 -0.8 23.5 L-0.5 14.8 L0.5 14.8 L0.8 23.5 Q0.8 24.5 1.9 24.5 Q3 24.5 3 23.5 L3 8.8 L4.4 13 Q4.7 13.9 5.4 13.7 Q6.1 13.5 5.9 12.6 L4.3 6.2 Q3.8 5 2.6 5 Z"/></g>
<g transform="translate(564.30,170.80) scale(1.100,1.000)" fill="#f7f5f9" stroke="#2f5a38" stroke-opacity="0.2" stroke-width="0.8" paint-order="stroke"><circle cx="0" cy="2.1" r="2.05"/><path d="M-2.6 5 Q-3.8 5 -4.3 6.2 L-5.9 12.6 Q-6.1 13.5 -5.4 13.7 Q-4.7 13.9 -4.4 13 L-3 8.8 L-3 23.5 Q-3 24.5 -1.9 24.5 Q-0.8 24.5 -0.8 23.5 L-0.5 14.8 L0.5 14.8 L0.8 23.5 Q0.8 24.5 1.9 24.5 Q3 24.5 3 23.5 L3 8.8 L4.4 13 Q4.7 13.9 5.4 13.7 Q6.1 13.5 5.9 12.6 L4.3 6.2 Q3.8 5 2.6 5 Z"/></g>
<g transform="translate(579.90,170.80) scale(1.100,1.000)" fill="#f7f5f9" stroke="#2f5a38" stroke-opacity="0.2" stroke-width="0.8" paint-order="stroke"><circle cx="0" cy="2.1" r="2.05"/><path d="M-2.6 5 Q-3.8 5 -4.3 6.2 L-5.9 12.6 Q-6.1 13.5 -5.4 13.7 Q-4.7 13.9 -4.4 13 L-3 8.8 L-3 23.5 Q-3 24.5 -1.9 24.5 Q-0.8 24.5 -0.8 23.5 L-0.5 14.8 L0.5 14.8 L0.8 23.5 Q0.8 24.5 1.9 24.5 Q3 24.5 3 23.5 L3 8.8 L4.4 13 Q4.7 13.9 5.4 13.7 Q6.1 13.5 5.9 12.6 L4.3 6.2 Q3.8 5 2.6 5 Z"/></g>
<g transform="translate(595.50,170.80) scale(1.100,1.000)" fill="#f7f5f9" stroke="#2f5a38" stroke-opacity="0.2" stroke-width="0.8" paint-order="stroke"><circle cx="0" cy="2.1" r="2.05"/><path d="M-2.6 5 Q-3.8 5 -4.3 6.2 L-5.9 12.6 Q-6.1 13.5 -5.4 13.7 Q-4.7 13.9 -4.4 13 L-3 8.8 L-3 23.5 Q-3 24.5 -1.9 24.5 Q-0.8 24.5 -0.8 23.5 L-0.5 14.8 L0.5 14.8 L0.8 23.5 Q0.8 24.5 1.9 24.5 Q3 24.5 3 23.5 L3 8.8 L4.4 13 Q4.7 13.9 5.4 13.7 Q6.1 13.5 5.9 12.6 L4.3 6.2 Q3.8 5 2.6 5 Z"/></g>
<g transform="translate(611.10,170.80) scale(1.100,1.000)" fill="#f7f5f9" stroke="#2f5a38" stroke-opacity="0.2" stroke-width="0.8" paint-order="stroke"><circle cx="0" cy="2.1" r="2.05"/><path d="M-2.6 5 Q-3.8 5 -4.3 6.2 L-5.9 12.6 Q-6.1 13.5 -5.4 13.7 Q-4.7 13.9 -4.4 13 L-3 8.8 L-3 23.5 Q-3 24.5 -1.9 24.5 Q-0.8 24.5 -0.8 23.5 L-0.5 14.8 L0.5 14.8 L0.8 23.5 Q0.8 24.5 1.9 24.5 Q3 24.5 3 23.5 L3 8.8 L4.4 13 Q4.7 13.9 5.4 13.7 Q6.1 13.5 5.9 12.6 L4.3 6.2 Q3.8 5 2.6 5 Z"/></g>
<g transform="translate(626.70,170.80) scale(1.100,1.000)" fill="#f7f5f9" stroke="#2f5a38" stroke-opacity="0.2" stroke-width="0.8" paint-order="stroke"><circle cx="0" cy="2.1" r="2.05"/><path d="M-2.6 5 Q-3.8 5 -4.3 6.2 L-5.9 12.6 Q-6.1 13.5 -5.4 13.7 Q-4.7 13.9 -4.4 13 L-3 8.8 L-3 23.5 Q-3 24.5 -1.9 24.5 Q-0.8 24.5 -0.8 23.5 L-0.5 14.8 L0.5 14.8 L0.8 23.5 Q0.8 24.5 1.9 24.5 Q3 24.5 3 23.5 L3 8.8 L4.4 13 Q4.7 13.9 5.4 13.7 Q6.1 13.5 5.9 12.6 L4.3 6.2 Q3.8 5 2.6 5 Z"/></g>
<g transform="translate(572.10,187.00) scale(1.100,1.000)" fill="#f7f5f9" stroke="#2f5a38" stroke-opacity="0.2" stroke-width="0.8" paint-order="stroke"><circle cx="0" cy="2.1" r="2.05"/><path d="M-2.6 5 Q-3.8 5 -4.3 6.2 L-5.9 12.6 Q-6.1 13.5 -5.4 13.7 Q-4.7 13.9 -4.4 13 L-3 8.8 L-3 23.5 Q-3 24.5 -1.9 24.5 Q-0.8 24.5 -0.8 23.5 L-0.5 14.8 L0.5 14.8 L0.8 23.5 Q0.8 24.5 1.9 24.5 Q3 24.5 3 23.5 L3 8.8 L4.4 13 Q4.7 13.9 5.4 13.7 Q6.1 13.5 5.9 12.6 L4.3 6.2 Q3.8 5 2.6 5 Z"/></g>
<g transform="translate(587.70,187.00) scale(1.100,1.000)" fill="#f7f5f9" stroke="#2f5a38" stroke-opacity="0.2" stroke-width="0.8" paint-order="stroke"><circle cx="0" cy="2.1" r="2.05"/><path d="M-2.6 5 Q-3.8 5 -4.3 6.2 L-5.9 12.6 Q-6.1 13.5 -5.4 13.7 Q-4.7 13.9 -4.4 13 L-3 8.8 L-3 23.5 Q-3 24.5 -1.9 24.5 Q-0.8 24.5 -0.8 23.5 L-0.5 14.8 L0.5 14.8 L0.8 23.5 Q0.8 24.5 1.9 24.5 Q3 24.5 3 23.5 L3 8.8 L4.4 13 Q4.7 13.9 5.4 13.7 Q6.1 13.5 5.9 12.6 L4.3 6.2 Q3.8 5 2.6 5 Z"/></g>
<g transform="translate(603.30,187.00) scale(1.100,1.000)" fill="#f7f5f9" stroke="#2f5a38" stroke-opacity="0.2" stroke-width="0.8" paint-order="stroke"><circle cx="0" cy="2.1" r="2.05"/><path d="M-2.6 5 Q-3.8 5 -4.3 6.2 L-5.9 12.6 Q-6.1 13.5 -5.4 13.7 Q-4.7 13.9 -4.4 13 L-3 8.8 L-3 23.5 Q-3 24.5 -1.9 24.5 Q-0.8 24.5 -0.8 23.5 L-0.5 14.8 L0.5 14.8 L0.8 23.5 Q0.8 24.5 1.9 24.5 Q3 24.5 3 23.5 L3 8.8 L4.4 13 Q4.7 13.9 5.4 13.7 Q6.1 13.5 5.9 12.6 L4.3 6.2 Q3.8 5 2.6 5 Z"/></g>
<g transform="translate(618.90,187.00) scale(1.100,1.000)" fill="#f7f5f9" stroke="#2f5a38" stroke-opacity="0.2" stroke-width="0.8" paint-order="stroke"><circle cx="0" cy="2.1" r="2.05"/><path d="M-2.6 5 Q-3.8 5 -4.3 6.2 L-5.9 12.6 Q-6.1 13.5 -5.4 13.7 Q-4.7 13.9 -4.4 13 L-3 8.8 L-3 23.5 Q-3 24.5 -1.9 24.5 Q-0.8 24.5 -0.8 23.5 L-0.5 14.8 L0.5 14.8 L0.8 23.5 Q0.8 24.5 1.9 24.5 Q3 24.5 3 23.5 L3 8.8 L4.4 13 Q4.7 13.9 5.4 13.7 Q6.1 13.5 5.9 12.6 L4.3 6.2 Q3.8 5 2.6 5 Z"/></g>
<g transform="translate(634.50,187.00) scale(1.100,1.000)" fill="#f7f5f9" stroke="#2f5a38" stroke-opacity="0.2" stroke-width="0.8" paint-order="stroke"><circle cx="0" cy="2.1" r="2.05"/><path d="M-2.6 5 Q-3.8 5 -4.3 6.2 L-5.9 12.6 Q-6.1 13.5 -5.4 13.7 Q-4.7 13.9 -4.4 13 L-3 8.8 L-3 23.5 Q-3 24.5 -1.9 24.5 Q-0.8 24.5 -0.8 23.5 L-0.5 14.8 L0.5 14.8 L0.8 23.5 Q0.8 24.5 1.9 24.5 Q3 24.5 3 23.5 L3 8.8 L4.4 13 Q4.7 13.9 5.4 13.7 Q6.1 13.5 5.9 12.6 L4.3 6.2 Q3.8 5 2.6 5 Z"/></g>
<g transform="translate(564.30,203.20) scale(1.100,1.000)" fill="#f7f5f9" stroke="#2f5a38" stroke-opacity="0.2" stroke-width="0.8" paint-order="stroke"><circle cx="0" cy="2.1" r="2.05"/><path d="M-2.6 5 Q-3.8 5 -4.3 6.2 L-5.9 12.6 Q-6.1 13.5 -5.4 13.7 Q-4.7 13.9 -4.4 13 L-3 8.8 L-3 23.5 Q-3 24.5 -1.9 24.5 Q-0.8 24.5 -0.8 23.5 L-0.5 14.8 L0.5 14.8 L0.8 23.5 Q0.8 24.5 1.9 24.5 Q3 24.5 3 23.5 L3 8.8 L4.4 13 Q4.7 13.9 5.4 13.7 Q6.1 13.5 5.9 12.6 L4.3 6.2 Q3.8 5 2.6 5 Z"/></g>
<g transform="translate(579.90,203.20) scale(1.100,1.000)" fill="#f7f5f9" stroke="#2f5a38" stroke-opacity="0.2" stroke-width="0.8" paint-order="stroke"><circle cx="0" cy="2.1" r="2.05"/><path d="M-2.6 5 Q-3.8 5 -4.3 6.2 L-5.9 12.6 Q-6.1 13.5 -5.4 13.7 Q-4.7 13.9 -4.4 13 L-3 8.8 L-3 23.5 Q-3 24.5 -1.9 24.5 Q-0.8 24.5 -0.8 23.5 L-0.5 14.8 L0.5 14.8 L0.8 23.5 Q0.8 24.5 1.9 24.5 Q3 24.5 3 23.5 L3 8.8 L4.4 13 Q4.7 13.9 5.4 13.7 Q6.1 13.5 5.9 12.6 L4.3 6.2 Q3.8 5 2.6 5 Z"/></g>
<g transform="translate(595.50,203.20) scale(1.100,1.000)" fill="#f7f5f9" stroke="#2f5a38" stroke-opacity="0.2" stroke-width="0.8" paint-order="stroke"><circle cx="0" cy="2.1" r="2.05"/><path d="M-2.6 5 Q-3.8 5 -4.3 6.2 L-5.9 12.6 Q-6.1 13.5 -5.4 13.7 Q-4.7 13.9 -4.4 13 L-3 8.8 L-3 23.5 Q-3 24.5 -1.9 24.5 Q-0.8 24.5 -0.8 23.5 L-0.5 14.8 L0.5 14.8 L0.8 23.5 Q0.8 24.5 1.9 24.5 Q3 24.5 3 23.5 L3 8.8 L4.4 13 Q4.7 13.9 5.4 13.7 Q6.1 13.5 5.9 12.6 L4.3 6.2 Q3.8 5 2.6 5 Z"/></g>
<g transform="translate(611.10,203.20) scale(1.100,1.000)" fill="#f7f5f9" stroke="#2f5a38" stroke-opacity="0.2" stroke-width="0.8" paint-order="stroke"><circle cx="0" cy="2.1" r="2.05"/><path d="M-2.6 5 Q-3.8 5 -4.3 6.2 L-5.9 12.6 Q-6.1 13.5 -5.4 13.7 Q-4.7 13.9 -4.4 13 L-3 8.8 L-3 23.5 Q-3 24.5 -1.9 24.5 Q-0.8 24.5 -0.8 23.5 L-0.5 14.8 L0.5 14.8 L0.8 23.5 Q0.8 24.5 1.9 24.5 Q3 24.5 3 23.5 L3 8.8 L4.4 13 Q4.7 13.9 5.4 13.7 Q6.1 13.5 5.9 12.6 L4.3 6.2 Q3.8 5 2.6 5 Z"/></g>
<g transform="translate(626.70,203.20) scale(1.100,1.000)" fill="#f7f5f9" stroke="#2f5a38" stroke-opacity="0.2" stroke-width="0.8" paint-order="stroke"><circle cx="0" cy="2.1" r="2.05"/><path d="M-2.6 5 Q-3.8 5 -4.3 6.2 L-5.9 12.6 Q-6.1 13.5 -5.4 13.7 Q-4.7 13.9 -4.4 13 L-3 8.8 L-3 23.5 Q-3 24.5 -1.9 24.5 Q-0.8 24.5 -0.8 23.5 L-0.5 14.8 L0.5 14.8 L0.8 23.5 Q0.8 24.5 1.9 24.5 Q3 24.5 3 23.5 L3 8.8 L4.4 13 Q4.7 13.9 5.4 13.7 Q6.1 13.5 5.9 12.6 L4.3 6.2 Q3.8 5 2.6 5 Z"/></g>
</g>
<text x="282.00" y="66.1" font-size="24" font-weight="bold" fill="#1c1a1a" textLength="153.20" lengthAdjust="spacingAndGlyphs">Clinical Trials</text>
<text x="60.30" y="100.8" font-size="15.5" font-weight="bold" fill="#1f1f24" textLength="78.80" lengthAdjust="spacingAndGlyphs">Preclinical</text>
<text x="163.40" y="100.8" font-size="15.5" font-weight="bold" fill="#33130f" textLength="60.40" lengthAdjust="spacingAndGlyphs">Phase 1</text>
<text x="263.10" y="100.8" font-size="15.5" font-weight="bold" fill="#1c1c3c" textLength="59.90" lengthAdjust="spacingAndGlyphs">Phase 2</text>
<text x="360.30" y="100.8" font-size="15.5" font-weight="bold" fill="#26103a" textLength="59.90" lengthAdjust="spacingAndGlyphs">Phase 3</text>
<text x="443.80" y="100.8" font-size="15.5" font-weight="bold" fill="#2a2410" textLength="95.80" lengthAdjust="spacingAndGlyphs">FDA Review</text>
<text x="570.00" y="100.8" font-size="15.5" font-weight="bold" fill="#0f2a18" textLength="60.70" lengthAdjust="spacingAndGlyphs">Phase 4</text>
<text x="172.00" y="254" font-size="15.5" font-weight="bold" fill="#33130f" textLength="41.80" lengthAdjust="spacingAndGlyphs">20-80</text>
<text x="150.30" y="272.5" font-size="15.5" font-weight="bold" fill="#33130f" textLength="87.20" lengthAdjust="spacingAndGlyphs">Participants</text>
<text x="260.90" y="254" font-size="15.5" font-weight="bold" fill="#1c1c3c" textLength="62.10" lengthAdjust="spacingAndGlyphs">100-300</text>
<text x="245.60" y="272.5" font-size="15.5" font-weight="bold" fill="#1c1c3c" textLength="89.10" lengthAdjust="spacingAndGlyphs">Participants</text>
<text x="343.90" y="254" font-size="15.5" font-weight="bold" fill="#26103a" textLength="89.70" lengthAdjust="spacingAndGlyphs">1,000-3,000</text>
<text x="343.10" y="272.5" font-size="15.5" font-weight="bold" fill="#26103a" textLength="88.50" lengthAdjust="spacingAndGlyphs">Participants</text>
<text x="574.80" y="253.7" font-size="15.5" font-weight="bold" fill="#0f2a18" textLength="50.40" lengthAdjust="spacingAndGlyphs">1,000+</text>
<text x="555.00" y="272.2" font-size="15.5" font-weight="bold" fill="#0f2a18" textLength="89.10" lengthAdjust="spacingAndGlyphs">Participants</text>
<text x="450.00" y="170.1" font-size="15.5" font-weight="normal" fill="#2e2c28" textLength="83.30" lengthAdjust="spacingAndGlyphs" stroke="#2e2c28" stroke-width="0.35">To Confirm</text>
<text x="452.80" y="188.7" font-size="15.5" font-weight="normal" fill="#2e2c28" textLength="79.60" lengthAdjust="spacingAndGlyphs" stroke="#2e2c28" stroke-width="0.35">Safety and</text>
<text x="443.50" y="207.2" font-size="15.5" font-weight="normal" fill="#2e2c28" textLength="98.60" lengthAdjust="spacingAndGlyphs" stroke="#2e2c28" stroke-width="0.35">Effectiveness</text>
<path d="M140.3 306.3 L140.8 306.3 L146.3 297.5 L151.8 306.3 L278.5 306.3 Q287.5 306.3 287.5 315.3 L287.5 353.5 Q287.5 362.5 278.5 362.5 L140.3 362.5 Q131.3 362.5 131.3 353.5 L131.3 315.3 Q131.3 306.3 140.3 306.3 Z" fill="#808082"/>
<path d="M348.5 306.3 L430.8 306.3 L436.3 297.5 L441.8 306.3 L487.3 306.3 Q496.3 306.3 496.3 315.3 L496.3 353.5 Q496.3 362.5 487.3 362.5 L348.5 362.5 Q339.5 362.5 339.5 353.5 L339.5 315.3 Q339.5 306.3 348.5 306.3 Z" fill="#808082"/>
<path d="M514.5 306.3 L541.5 306.3 L547 297.5 L552.5 306.3 L653.5 306.3 Q662.5 306.3 662.5 315.3 L662.5 353.5 Q662.5 362.5 653.5 362.5 L514.5 362.5 Q505.5 362.5 505.5 353.5 L505.5 315.3 Q505.5 306.3 514.5 306.3 Z" fill="#808082"/>
<text x="135.50" y="328.8" font-size="14.2" font-weight="bold" fill="#fff" textLength="150.30" lengthAdjust="spacingAndGlyphs" stroke="#808082" stroke-width="0.3">Drug Approved for</text>
<text x="138.00" y="349.5" font-size="14.2" font-weight="bold" fill="#fff" textLength="145.30" lengthAdjust="spacingAndGlyphs" stroke="#808082" stroke-width="0.3">Testing in Humans</text>
<text x="354.20" y="328.8" font-size="14.2" font-weight="bold" fill="#fff" textLength="126.60" lengthAdjust="spacingAndGlyphs" stroke="#808082" stroke-width="0.3">Drug Submitted</text>
<text x="348.00" y="349.5" font-size="14.2" font-weight="bold" fill="#fff" textLength="139.10" lengthAdjust="spacingAndGlyphs" stroke="#808082" stroke-width="0.3">for FDA Approval</text>
<text x="522.20" y="339.5" font-size="14.2" font-weight="bold" fill="#fff" textLength="123.60" lengthAdjust="spacingAndGlyphs" stroke="#808082" stroke-width="0.3">Drug Approved</text>
<circle cx="146.6" cy="285.7" r="6.2" fill="#1c3d8f"/>
<circle cx="436.2" cy="285.7" r="6.2" fill="#1c3d8f"/>
<circle cx="547" cy="285.7" r="6.2" fill="#1c3d8f"/>
</svg>
</body></html>
